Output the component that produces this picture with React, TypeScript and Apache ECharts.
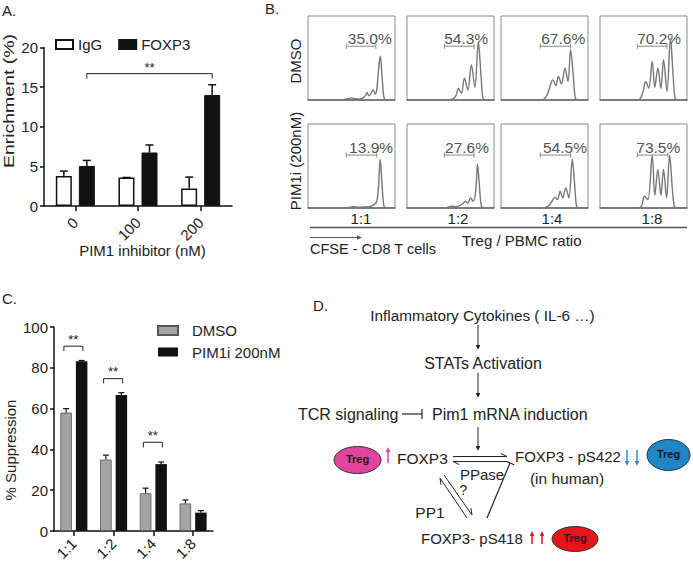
import React, { useEffect, useRef } from 'react';
import * as echarts from 'echarts';

const FONT = '"Liberation Sans", Arial, Helvetica, sans-serif';

// ---------- Panel A data ----------
const aCategories = ['0', '100', '200'];
const aSeriesNames = ['IgG', 'FOXP3'];
const aIgG = [3.8, 3.6, 2.2];
const aIgGErr = [4.4, 3.6, 3.65];
const aFoxp3 = [5.05, 6.75, 14.0];
const aFoxp3Err = [5.75, 7.7, 15.3];
// [fromCategory, toCategory, height]
const aSig = [[0, 2, 16.7]];

// ---------- Panel B data ----------
const bRatios = ['1:1', '1:2', '1:4', '1:8'];
const bRows = ['DMSO', 'PIM1i (200nM)'];
const bPercent = ['35.0%', '54.3%', '67.6%', '70.2%', '13.9%', '27.6%', '54.5%', '73.5%'];
const bGateFrom = [44, 43, 45, 43, 44, 43, 45, 43];
const bGateTo = [78, 77, 80, 77, 79, 77, 80, 78];
const bGateY = [64, 64, 64, 64, 63, 63, 63, 63];
const bLabelX = [71, 68, 71.5, 68, 72.5, 69, 73.5, 67];
const bLabelY = [73, 73, 73, 73, 72, 72, 72, 72];
const bHist = [
  [[0, 0.5], [40, 0.5], [46, 1.5], [50, 2.5], [54, 1.5], [58, 1], [62, 2], [66, 5], [68, 9], [70, 5], [72, 7], [75, 12], [77, 7], [79, 12], [81, 35], [83, 52], [85, 30], [87, 5], [89, 0.5], [100, 0.5]],
  [[0, 0.5], [50, 0.5], [54, 2], [57, 7], [59, 14], [62.5, 8], [66, 26], [70, 12], [74, 42], [78, 15], [82, 69], [85, 30], [87, 4], [89, 0.5], [100, 0.5]],
  [[0, 0.5], [47, 0.5], [50, 1.5], [53, 6], [56, 15], [59.5, 24], [63, 17], [66, 28], [69.5, 19], [73.5, 38], [77, 22], [80, 60], [83, 30], [85, 5], [87, 0.5], [100, 0.5]],
  [[0, 0.5], [44, 0.5], [47, 3], [50, 12], [52.5, 22], [56, 14], [60, 46], [63, 15], [66.5, 38], [70, 14], [73, 48], [77, 10], [81, 73], [84, 30], [86, 4], [88, 0.5], [100, 0.5]],
  [[0, 0.5], [45, 0.5], [52, 1.5], [60, 1], [70, 1.5], [76, 4], [79, 8], [81, 25], [83, 58], [85, 30], [87, 4], [89, 0.5], [100, 0.5]],
  [[0, 0.5], [45, 0.5], [51, 2], [56, 1.5], [61, 3], [64, 5], [67, 8], [70, 6], [73, 12], [76, 8], [79, 20], [81, 52], [83, 30], [85, 5], [87, 0.5], [100, 0.5]],
  [[0, 0.5], [50, 0.5], [54, 2], [58, 7], [62, 13], [65, 10], [68, 20], [71, 12], [74.5, 24], [78, 12], [82, 58], [84.5, 30], [86.5, 4], [88, 0.5], [100, 0.5]],
  [[0, 0.5], [45, 0.5], [48, 3], [51, 14], [55, 10], [60, 63], [63, 15], [66.5, 46], [70, 15], [73, 46], [76.5, 12], [80, 63], [83, 25], [85, 4], [87, 0.5], [100, 0.5]],
];

// ---------- Panel C data ----------
const cCategories = ['1:1', '1:2', '1:4', '1:8'];
const cSeriesNames = ['DMSO', 'PIM1i 200nM'];
const cDmso = [58, 35, 18.5, 13.5];
const cDmsoErr = [60, 37.2, 21, 15.2];
const cPim = [83.2, 66.7, 32.8, 9];
const cPimErr = [83.6, 67.8, 33.8, 10];
// [category, bracket height, tick bottom]
const cSig = [[0, 90.6, 88.2], [1, 74.7, 72.4], [2, 43.5, 41]];

const BLACK = '#111';
const GRAY_TXT = '#222';

function errSeries(grid: number, vals: number[], errs: number[], offset: number, cap: number, lw: number) {
  return {
    type: 'custom',
    xAxisIndex: grid,
    yAxisIndex: grid,
    silent: true,
    z: 5,
    encode: { x: 0, y: [1, 2] },
    data: vals.map((v, i) => [i, v, errs[i]]),
    renderItem: (params: any, api: any) => {
      const i = api.value(0);
      const p0 = api.coord([i, api.value(1)]);
      const p1 = api.coord([i, api.value(2)]);
      const cx = p0[0] + offset;
      const st = { stroke: BLACK, lineWidth: lw };
      return {
        type: 'group',
        children: [
          { type: 'line', shape: { x1: cx, y1: p0[1], x2: cx, y2: p1[1] }, style: st },
          { type: 'line', shape: { x1: cx - cap, y1: p1[1], x2: cx + cap, y2: p1[1] }, style: st },
        ],
      };
    },
  };
}

function arrowEls(x1: number, y1: number, x2: number, y2: number, head = 5, color = '#222', lw = 1) {
  const ang = Math.atan2(y2 - y1, x2 - x1);
  const hx = x2 - head * Math.cos(ang);
  const hy = y2 - head * Math.sin(ang);
  const w = head * 0.45;
  const px = -Math.sin(ang) * w;
  const py = Math.cos(ang) * w;
  return [
    { type: 'line', shape: { x1, y1, x2: hx, y2: hy }, style: { stroke: color, lineWidth: lw } },
    { type: 'polygon', shape: { points: [[x2, y2], [hx + px, hy + py], [hx - px, hy - py]] }, style: { fill: color } },
  ];
}

function halfArrow(x1: number, y1: number, x2: number, y2: number, side: number, head = 7) {
  const ang = Math.atan2(y2 - y1, x2 - x1);
  const a2 = ang - side * 0.45;
  const bx = x2 - head * Math.cos(a2);
  const by = y2 - head * Math.sin(a2);
  const st = { stroke: '#222', lineWidth: 1 };
  return [
    { type: 'line', shape: { x1, y1, x2, y2 }, style: st },
    { type: 'line', shape: { x1: x2, y1: y2, x2: bx, y2: by }, style: st },
  ];
}

function txt(text: string, x: number, y: number, size = 15, align = 'center', extra: any = {}) {
  return {
    type: 'text',
    x,
    y,
    silent: true,
    style: {
      text,
      fontSize: size,
      fontFamily: FONT,
      fill: GRAY_TXT,
      align,
      verticalAlign: 'middle',
      ...extra,
    },
  };
}

function tregEllipse(cx: number, cy: number, rx: number, ry: number, fill: string) {
  return [
    { type: 'ellipse', shape: { cx, cy, rx, ry }, style: { fill, stroke: '#333', lineWidth: 1 } },
    txt('Treg', cx, cy - 1, 11, 'center', { fontWeight: 'bold', fill: '#1a1a1a' }),
  ];
}

function inhibit(x1: number, y1: number, x2: number, y2: number, bar = 5) {
  const ang = Math.atan2(y2 - y1, x2 - x1);
  const px = -Math.sin(ang) * bar;
  const py = Math.cos(ang) * bar;
  const st = { stroke: '#222', lineWidth: 1.2 };
  return [
    { type: 'line', shape: { x1, y1, x2, y2 }, style: st },
    { type: 'line', shape: { x1: x2 + px, y1: y2 + py, x2: x2 - px, y2: y2 - py }, style: st },
  ];
}

const bLefts = [308, 407, 501, 600];
const bTops = [16, 124];

export default function App() {
  const ref = useRef<HTMLDivElement>(null);
  useEffect(() => {
    if (!ref.current) return;
    const chart = echarts.init(ref.current, undefined, { renderer: 'svg' });

    const grids: any[] = [
      { left: 44, top: 47.5, width: 188, height: 158.5 },
      { left: 54, top: 327, width: 159, height: 204 },
    ];
    const xAxes: any[] = [];
    const yAxes: any[] = [];
    const axisLine = { show: true, lineStyle: { color: BLACK, width: 1.5 } };
    const axisTick = { show: true, length: 4, lineStyle: { color: BLACK, width: 1.5 } };
    const label = { color: GRAY_TXT, fontSize: 15, fontFamily: FONT };

    xAxes.push({ gridIndex: 0, type: 'category', data: aCategories, axisLine, axisTick: { ...axisTick, alignWithLabel: true, length: 5 }, axisLabel: { ...label, rotate: 45, margin: 14 } });
    yAxes.push({ gridIndex: 0, type: 'value', min: 0, max: 20, interval: 5, axisLine, axisTick, splitLine: { show: false }, axisLabel: { ...label, margin: 6 } });
    xAxes.push({ gridIndex: 1, type: 'category', data: cCategories, axisLine, axisTick: { ...axisTick, alignWithLabel: true, length: 5 }, axisLabel: { ...label, rotate: 45, margin: 10 } });
    yAxes.push({ gridIndex: 1, type: 'value', min: 0, max: 100, interval: 20, axisLine, axisTick, splitLine: { show: false }, axisLabel: { ...label, margin: 6 } });

    const series: any[] = [
      { name: aSeriesNames[0], type: 'bar', xAxisIndex: 0, yAxisIndex: 0, data: aIgG, barWidth: 16, barGap: '44%', itemStyle: { color: '#fff', borderColor: BLACK, borderWidth: 1.5 } },
      { name: aSeriesNames[1], type: 'bar', xAxisIndex: 0, yAxisIndex: 0, data: aFoxp3, barWidth: 16, barGap: '44%', itemStyle: { color: BLACK, borderColor: BLACK, borderWidth: 1 } },
      errSeries(0, aIgG, aIgGErr, -11.5, 4, 1.5),
      errSeries(0, aFoxp3, aFoxp3Err, 11.5, 4, 1.5),
      {
        type: 'custom', xAxisIndex: 0, yAxisIndex: 0, silent: true, z: 6,
        encode: { x: 0, y: 2 },
        data: aSig,
        renderItem: (params: any, api: any) => {
          const a = api.coord([api.value(0), api.value(2)]);
          const b = api.coord([api.value(1), api.value(2)]);
          const x1 = a[0] + 11.5, x2 = b[0] + 11.5, y = a[1];
          const st = { stroke: '#222', lineWidth: 1 };
          return {
            type: 'group', children: [
              { type: 'line', shape: { x1, y1: y, x2, y2: y }, style: st },
              { type: 'line', shape: { x1, y1: y, x2: x1, y2: y + 5 }, style: st },
              { type: 'line', shape: { x1: x2, y1: y, x2, y2: y + 5 }, style: st },
              { type: 'text', style: { text: '**', x: (x1 + x2) / 2, y: y - 6, align: 'center', verticalAlign: 'middle', fontSize: 13, fontFamily: FONT, fill: '#222' } },
            ],
          };
        },
      },
      { name: cSeriesNames[0], type: 'bar', xAxisIndex: 1, yAxisIndex: 1, data: cDmso, barWidth: 11.5, barGap: '35%', itemStyle: { color: '#a4a4a4', borderColor: '#555', borderWidth: 0.8 } },
      { name: cSeriesNames[1], type: 'bar', xAxisIndex: 1, yAxisIndex: 1, data: cPim, barWidth: 11.5, barGap: '35%', itemStyle: { color: BLACK } },
      errSeries(1, cDmso, cDmsoErr, -7.75, 3, 1.2),
      errSeries(1, cPim, cPimErr, 7.75, 3, 1.2),
      {
        type: 'custom', xAxisIndex: 1, yAxisIndex: 1, silent: true, z: 6,
        encode: { x: 0, y: [1, 2] },
        data: cSig,
        renderItem: (params: any, api: any) => {
          const a = api.coord([api.value(0), api.value(1)]);
          const t = api.coord([api.value(0), api.value(2)]);
          const x1 = a[0] - 10, x2 = a[0] + 9, y = a[1];
          const st = { stroke: '#222', lineWidth: 1 };
          return {
            type: 'group', children: [
              { type: 'line', shape: { x1, y1: y, x2, y2: y }, style: st },
              { type: 'line', shape: { x1, y1: y, x2: x1, y2: t[1] }, style: st },
              { type: 'line', shape: { x1: x2, y1: y, x2, y2: t[1] }, style: st },
              { type: 'text', style: { text: '**', x: (x1 + x2) / 2, y: y - 7, align: 'center', verticalAlign: 'middle', fontSize: 13, fontFamily: FONT, fill: '#222' } },
            ],
          };
        },
      },
    ];

    // Panel B histograms
    bHist.forEach((hist, k) => {
      const gi = grids.length;
      const row = Math.floor(k / 4);
      const col = k % 4;
      grids.push({ left: bLefts[col], top: bTops[row], width: 87, height: 84, show: true, borderColor: '#8a8a8a', borderWidth: 1, backgroundColor: 'transparent' });
      xAxes.push({ gridIndex: gi, type: 'value', min: 0, max: 100, show: true, axisLine: { show: true, onZero: false, lineStyle: { color: '#666', width: 1.5 } }, axisTick: { show: false }, axisLabel: { show: false }, splitLine: { show: false } });
      yAxes.push({ gridIndex: gi, type: 'value', min: 0, max: 100, show: false, splitLine: { show: false } });
      series.push({
        type: 'line', xAxisIndex: gi, yAxisIndex: gi, data: hist, smooth: 0.35, showSymbol: false, silent: true,
        lineStyle: { color: '#777', width: 1.4 },
      });
      series.push({
        type: 'line', xAxisIndex: gi, yAxisIndex: gi, silent: true,
        data: [[bGateFrom[k], bGateY[k]], [bGateTo[k], bGateY[k]]],
        symbol: 'rect', symbolSize: [1, 5], showSymbol: true,
        itemStyle: { color: '#888' }, lineStyle: { color: '#888', width: 1 },
      });
      series.push({
        type: 'scatter', xAxisIndex: gi, yAxisIndex: gi, silent: true, symbolSize: 0,
        data: [[bLabelX[k], bLabelY[k]]],
        label: { show: true, position: 'inside', formatter: bPercent[k], fontSize: 15.5, fontFamily: FONT, color: '#222' },
      });
    });

    const graphics: any[] = [
      // panel letters
      txt('A.', 2, 10, 15, 'left'),
      txt('B.', 265, 8, 15, 'left'),
      txt('C.', 2, 298, 15, 'left'),
      txt('D.', 313, 305, 15, 'left'),
      // Panel A axis titles
      { ...txt('Enrichment (%)', 9, 101, 15), rotation: Math.PI / 2, scaleX: 1.3 },
      txt('PIM1 inhibitor (nM)', 142.5, 250, 15),
      // Panel C axis title
      { ...txt('% Suppression', 10, 450, 15), rotation: Math.PI / 2 },
      // Panel B labels
      { ...txt(bRows[0], 295, 61, 15), rotation: Math.PI / 2 },
      { ...txt(bRows[1], 295, 161, 15), rotation: Math.PI / 2 },
      txt(bRatios[0], 361, 218, 15),
      txt(bRatios[1], 458, 218, 15),
      txt(bRatios[2], 552, 218, 15),
      txt(bRatios[3], 652, 218, 15),
      { type: 'line', shape: { x1: 310, y1: 227.5, x2: 687, y2: 227.5 }, style: { stroke: '#555', lineWidth: 1.5 } },
      ...arrowEls(310, 237.5, 362, 237.5, 5, '#555', 1),
      txt('CFSE - CD8 T cells', 310, 249, 14.5, 'left'),
      txt('Treg / PBMC ratio', 462, 240, 15, 'left'),
      // Panel D
      txt('Inflammatory Cytokines ( IL-6 \u2026)', 482.5, 315, 15.3),
      ...arrowEls(478, 325, 478, 350, 5),
      txt('STATs Activation', 483, 363, 16),
      ...arrowEls(478, 373, 478, 398, 5),
      txt('TCR signaling', 298, 414, 16, 'left'),
      ...inhibit(402, 414, 422, 414, 5),
      txt('Pim1 mRNA induction', 432, 414, 16, 'left'),
      ...arrowEls(478, 427, 478, 451, 5),
      txt('FOXP3', 397, 458, 15.5, 'left'),
      ...halfArrow(453, 456.5, 507, 456.5, -1),
      ...halfArrow(507, 461.5, 453, 461.5, -1),
      txt('FOXP3 - pS422', 515, 456, 15, 'left'),
      ...arrowEls(627, 450, 627, 466, 5, '#2a8fd0', 1.5),
      ...arrowEls(637, 450, 637, 466, 5, '#2a8fd0', 1.5),
      ...tregEllipse(668.5, 455, 21.5, 15.5, '#1f86c8'),
      txt('(in human)', 567, 478, 15.5),
      txt('PPase', 482, 474, 15),
      ...tregEllipse(357.5, 460, 23.5, 13.5, '#e0449c'),
      ...arrowEls(388, 463, 388, 447, 5, '#e0449c', 1.5),
      ...inhibit(487, 518, 510, 463, 4.5),
      ...halfArrow(467, 518, 440, 478, -1),
      ...halfArrow(444, 475, 472, 515, -1),
      txt('PP1', 430, 512, 15.5),
      txt('?', 463.5, 490, 14),
      txt('FOXP3- pS418', 421, 538, 15, 'left'),
      ...arrowEls(532, 544, 532, 531, 5, '#e8141b', 1.5),
      ...arrowEls(542, 544, 542, 531, 5, '#e8141b', 1.5),
      ...tregEllipse(575, 539, 23, 12.5, '#e8141b'),
    ];

    chart.setOption({
      animation: false,
      backgroundColor: '#fff',
      textStyle: { fontFamily: FONT },
      grid: grids,
      xAxis: xAxes,
      yAxis: yAxes,
      legend: [
        {
          data: aSeriesNames, left: 55, top: 36.5, padding: 0, itemWidth: 17, itemHeight: 9, itemGap: 16, icon: 'rect',
          textStyle: { fontSize: 15, fontFamily: FONT, color: GRAY_TXT, lineHeight: 16 },
          selectedMode: false,
        },
        {
          data: cSeriesNames, left: 157, top: 322.5, padding: 0, orient: 'vertical', itemWidth: 20, itemHeight: 9, itemGap: 5.5, icon: 'rect',
          textStyle: { fontSize: 15, fontFamily: FONT, color: GRAY_TXT, lineHeight: 16, padding: [0, 0, 0, 9] },
          selectedMode: false,
        },
      ],
      series,
      graphic: graphics,
    });
    return () => chart.dispose();
  }, []);
  return <div ref={ref} style={{ position: 'fixed', left: 0, top: 0, width: 693, height: 565 }} />;
}
